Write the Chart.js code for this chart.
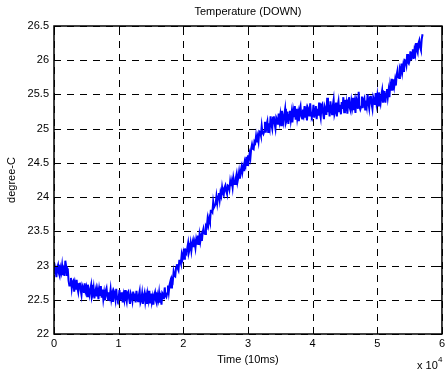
<!DOCTYPE html>
<html>
<head>
<meta charset="utf-8">
<script src="https://cdn.jsdelivr.net/npm/chart.js@4/dist/chart.umd.min.js"></script>
<style>
  html, body { margin: 0; padding: 0; background: #fff; }
  #wrap { width: 448px; height: 373px; }
</style>
</head>
<body>
<div id="wrap"><canvas id="chart" width="448" height="373"></canvas></div>
<script>
// one sample every 125 ticks of 10 ms
const sampleStep = 125

const temperature = [
  22.99, 22.87, 22.94, 22.83, 22.97, 23.01, 22.89, 22.85, 22.96, 22.90, 23.00, 22.86, 22.93, 22.85, 23.07, 22.99, 22.85, 22.96, 22.78, 22.71,
  22.71, 22.82, 22.67, 22.76, 22.78, 22.62, 22.73, 22.65, 22.79, 22.67, 22.61, 22.73, 22.75, 22.64, 22.57, 22.71, 22.68, 22.60, 22.74, 22.63,
  22.68, 22.55, 22.72, 22.61, 22.56, 22.66, 22.72, 22.54, 22.58, 22.67, 22.52, 22.62, 22.67, 22.55, 22.63, 22.51, 22.65, 22.57, 22.70, 22.53,
  22.65, 22.51, 22.60, 22.49, 22.63, 22.67, 22.55, 22.50, 22.61, 22.55, 22.65, 22.51, 22.58, 22.47, 22.63, 22.60, 22.51, 22.66, 22.52, 22.49,
  22.52, 22.64, 22.49, 22.59, 22.61, 22.46, 22.57, 22.50, 22.64, 22.53, 22.47, 22.60, 22.62, 22.51, 22.44, 22.59, 22.55, 22.48, 22.62, 22.51,
  22.59, 22.46, 22.63, 22.53, 22.48, 22.57, 22.63, 22.46, 22.50, 22.59, 22.44, 22.55, 22.60, 22.47, 22.55, 22.44, 22.58, 22.50, 22.63, 22.46,
  22.59, 22.47, 22.54, 22.43, 22.57, 22.61, 22.49, 22.45, 22.56, 22.50, 22.60, 22.46, 22.53, 22.43, 22.60, 22.58, 22.51, 22.68, 22.56, 22.54,
  22.59, 22.71, 22.61, 22.72, 22.77, 22.68, 22.80, 22.77, 22.91, 22.85, 22.84, 22.97, 23.02, 22.96, 22.93, 23.07, 23.07, 23.03, 23.16, 23.10,
  23.18, 23.10, 23.25, 23.19, 23.17, 23.26, 23.33, 23.20, 23.25, 23.33, 23.22, 23.32, 23.37, 23.27, 23.34, 23.26, 23.38, 23.32, 23.44, 23.30,
  23.44, 23.35, 23.43, 23.36, 23.49, 23.54, 23.47, 23.46, 23.58, 23.56, 23.68, 23.60, 23.69, 23.64, 23.80, 23.80, 23.78, 23.93, 23.85, 23.85,
  23.90, 24.01, 23.91, 24.01, 24.06, 23.96, 24.07, 24.02, 24.14, 24.06, 24.03, 24.14, 24.17, 24.09, 24.05, 24.17, 24.16, 24.11, 24.23, 24.16,
  24.23, 24.14, 24.28, 24.21, 24.19, 24.28, 24.34, 24.22, 24.28, 24.37, 24.27, 24.38, 24.44, 24.36, 24.44, 24.38, 24.51, 24.46, 24.59, 24.47,
  24.61, 24.54, 24.63, 24.57, 24.71, 24.77, 24.71, 24.70, 24.81, 24.79, 24.89, 24.80, 24.88, 24.81, 24.96, 24.95, 24.90, 25.04, 24.94, 24.92,
  24.96, 25.10, 24.94, 25.06, 25.11, 24.95, 25.08, 25.01, 25.18, 25.06, 25.00, 25.16, 25.18, 25.07, 25.00, 25.16, 25.13, 25.06, 25.22, 25.11,
  25.20, 25.05, 25.26, 25.15, 25.09, 25.21, 25.29, 25.09, 25.13, 25.25, 25.07, 25.20, 25.26, 25.13, 25.23, 25.09, 25.26, 25.18, 25.33, 25.13,
  25.29, 25.15, 25.23, 25.11, 25.28, 25.33, 25.18, 25.15, 25.28, 25.21, 25.33, 25.16, 25.25, 25.12, 25.31, 25.28, 25.18, 25.37, 25.20, 25.17,
  25.20, 25.35, 25.16, 25.29, 25.33, 25.14, 25.29, 25.19, 25.38, 25.23, 25.16, 25.34, 25.36, 25.22, 25.14, 25.32, 25.28, 25.20, 25.45, 25.24,
  25.35, 25.18, 25.40, 25.28, 25.21, 25.34, 25.42, 25.21, 25.26, 25.38, 25.18, 25.33, 25.40, 25.24, 25.35, 25.21, 25.39, 25.29, 25.46, 25.24,
  25.42, 25.26, 25.36, 25.22, 25.41, 25.46, 25.30, 25.26, 25.40, 25.32, 25.45, 25.27, 25.37, 25.23, 25.44, 25.40, 25.29, 25.54, 25.32, 25.28,
  25.32, 25.47, 25.30, 25.42, 25.45, 25.28, 25.41, 25.33, 25.50, 25.38, 25.30, 25.46, 25.48, 25.36, 25.29, 25.46, 25.42, 25.35, 25.52, 25.38,
  25.48, 25.34, 25.53, 25.43, 25.37, 25.49, 25.56, 25.38, 25.44, 25.55, 25.38, 25.51, 25.58, 25.46, 25.56, 25.46, 25.64, 25.57, 25.73, 25.56,
  25.72, 25.62, 25.71, 25.63, 25.79, 25.85, 25.75, 25.74, 25.87, 25.83, 25.95, 25.83, 25.92, 25.83, 26.00, 25.99, 25.93, 26.09, 25.97, 25.95,
  26.00, 26.13, 26.00, 26.11, 26.16, 26.02, 26.15, 26.09, 26.25, 26.15, 26.11, 26.25, 26.29, 26.19, 26.15, 26.31, 26.38
]

const xTicks = [0, 10000, 20000, 30000, 40000, 50000, 60000]
const yTicks = [22, 22.5, 23, 23.5, 24, 24.5, 25, 25.5, 26, 26.5]

const titleText = 'Temperature (DOWN)'
const xLabel = 'Time (10ms)'
const yLabel = 'degree-C'

const FONT = 'Arial, "Liberation Sans", Helvetica, sans-serif'

const points = temperature.map((t, i) => ({ x: i * sampleStep, y: t }))

// dashed grid under the data, matlab style
const dashedGrid = {
  id: 'dashedGrid',
  beforeDatasetsDraw (chart) {
    const { ctx, chartArea: a, scales } = chart
    ctx.save()
    ctx.strokeStyle = '#000'
    ctx.lineWidth = 1
    ctx.setLineDash([7, 6])
    ctx.beginPath()
    xTicks.forEach((v) => {
      const px = Math.round(scales.x.getPixelForValue(v)) + 0.5
      ctx.moveTo(px, a.bottom); ctx.lineTo(px, a.top)
    })
    yTicks.forEach((v) => {
      const py = Math.round(scales.y.getPixelForValue(v)) + 0.5
      ctx.moveTo(a.left, py); ctx.lineTo(a.right, py)
    })
    ctx.stroke()
    ctx.restore()
  }
}

// box, inward ticks, title and the x 10^4 exponent
const matlabFrame = {
  id: 'matlabFrame',
  afterDraw (chart) {
    const { ctx, chartArea: a, scales } = chart
    ctx.save()
    ctx.strokeStyle = '#000'
    ctx.lineWidth = 1
    ctx.setLineDash([])
    ctx.beginPath()
    xTicks.forEach((v) => {
      const px = Math.round(scales.x.getPixelForValue(v)) + 0.5
      ctx.moveTo(px, a.bottom); ctx.lineTo(px, a.bottom - 4)
      ctx.moveTo(px, a.top); ctx.lineTo(px, a.top + 4)
    })
    yTicks.forEach((v) => {
      const py = Math.round(scales.y.getPixelForValue(v)) + 0.5
      ctx.moveTo(a.left, py); ctx.lineTo(a.left + 4, py)
      ctx.moveTo(a.right, py); ctx.lineTo(a.right - 4, py)
    })
    ctx.stroke()
    ctx.lineWidth = 1.5
    ctx.strokeRect(a.left, a.top, a.right - a.left, a.bottom - a.top)

    ctx.fillStyle = '#000'
    ctx.font = '11px ' + FONT
    ctx.textAlign = 'center'
    ctx.textBaseline = 'middle'
    ctx.fillText(titleText, (a.left + a.right) / 2, 12)

    ctx.textAlign = 'left'
    ctx.textBaseline = 'alphabetic'
    ctx.fillText('x 10', 417, 369)
    ctx.font = '8px ' + FONT
    ctx.fillText('4', 438, 362)
    ctx.restore()
  }
}

new Chart(document.getElementById('chart'), {
  type: 'line',
  data: {
    datasets: [{
      data: points,
      borderColor: '#0000ff',
      borderWidth: 2,
      pointRadius: 0,
      tension: 0,
      fill: false
    }]
  },
  plugins: [dashedGrid, matlabFrame],
  options: {
    responsive: false,
    animation: false,
    events: [],
    layout: { padding: { left: 0, right: 5, top: 26, bottom: 0 } },
    plugins: {
      legend: { display: false },
      tooltip: { enabled: false }
    },
    scales: {
      x: {
        type: 'linear',
        min: 0,
        max: 60000,
        afterBuildTicks (scale) { scale.ticks = xTicks.map(v => ({ value: v })) },
        afterFit (scale) { scale.height = 39 },
        ticks: {
          color: '#000',
          font: { family: FONT, size: 11 },
          padding: 3,
          maxRotation: 0,
          callback: v => String(v / 10000)
        },
        grid: { display: false, drawTicks: false },
        border: { display: false },
        title: {
          display: true,
          text: xLabel,
          color: '#000',
          font: { family: FONT, size: 11 },
          padding: { top: 0, bottom: 6 }
        }
      },
      y: {
        type: 'linear',
        min: 22,
        max: 26.5,
        afterBuildTicks (scale) { scale.ticks = yTicks.map(v => ({ value: v })) },
        afterFit (scale) { scale.width = 54 },
        ticks: {
          color: '#000',
          font: { family: FONT, size: 11 },
          padding: 5,
          callback: v => String(v)
        },
        grid: { display: false, drawTicks: false },
        border: { display: false },
        title: {
          display: true,
          text: yLabel,
          color: '#000',
          font: { family: FONT, size: 11 },
          padding: { top: 5, bottom: 0 }
        }
      }
    }
  }
})
</script>
</body>
</html>
